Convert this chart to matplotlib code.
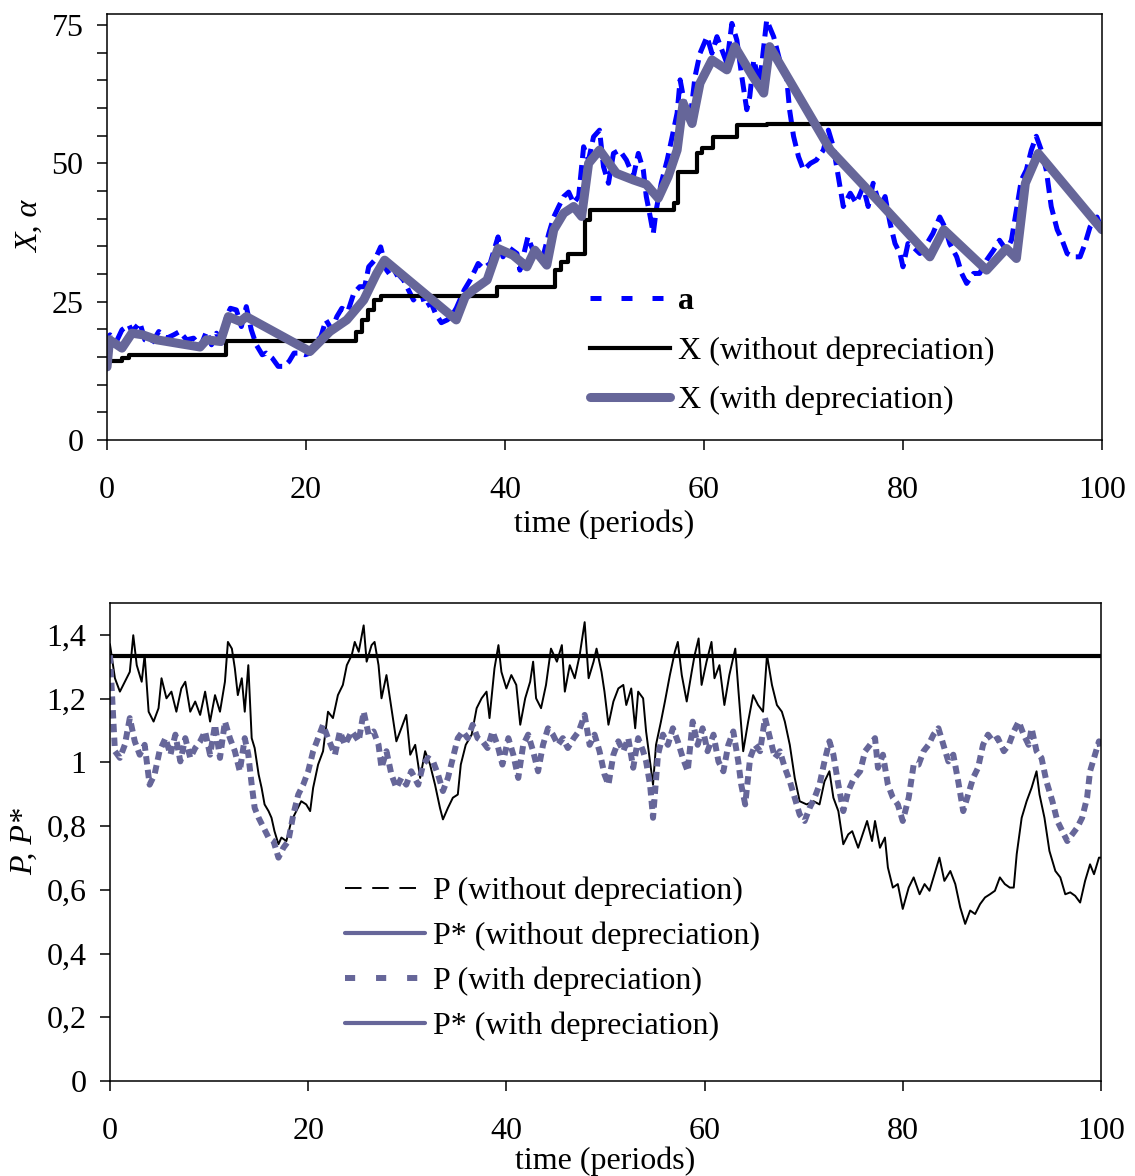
"""Two-panel chart: alpha / X paths and P / P* paths over time."""

import matplotlib

matplotlib.use("Agg")
import matplotlib.pyplot as plt
from matplotlib import ticker
from matplotlib.lines import Line2D

plt.rcParams["font.family"] = ["Liberation Serif", "DejaVu Serif"]
plt.rcParams["mathtext.fontset"] = "stix"

BLUE = "#0000ff"
SLATE = "#666699"

# ---- top panel data ----
alpha_t = [0.0, 0.3, 1.0, 1.5, 2.2, 2.5, 3.3, 3.8, 4.5, 5.2, 6.0, 6.7, 7.3, 8.0, 8.7, 9.4,
           10.0, 10.5, 11.0, 11.5, 12.0, 12.4, 13.0, 13.5, 14.0, 14.5, 15.0, 15.6, 16.0,
           16.6, 17.2, 17.8, 18.3, 18.8, 19.3, 19.9, 20.4, 20.9, 21.5, 22.0, 22.6, 23.1,
           23.6, 24.2, 24.8, 25.4, 25.9, 26.3, 26.9, 27.5, 28.1, 28.6, 29.2, 29.8, 30.3,
           30.8, 31.5, 32.0, 32.6, 33.0, 33.6, 34.2, 34.6, 35.1, 35.9, 36.5, 37.3, 37.8,
           38.5, 39.3, 39.8, 40.3, 41.2, 41.5, 42.3, 42.8, 43.4, 43.9, 44.4, 44.9, 45.4,
           45.9, 46.4, 46.9, 47.4, 47.9, 48.4, 48.9, 49.5, 49.9, 50.4, 50.9, 51.5, 52.2,
           52.9, 53.4, 53.9, 54.2, 54.6, 54.9, 55.2, 55.7, 56.3, 56.8, 57.3, 57.6, 58.1,
           58.6, 59.1, 59.6, 60.3, 60.8, 61.3, 61.8, 62.3, 62.8, 63.3, 63.8, 64.3, 64.6,
           65.0, 65.6, 66.3, 67.0, 67.6, 68.3, 68.6, 69.0, 69.5, 70.0, 70.7, 71.3, 72.0,
           72.5, 73.0, 73.5, 74.0, 74.7, 75.3, 76.0, 76.5, 77.0, 77.7, 78.2, 78.7, 79.2,
           79.7, 80.0, 80.5, 81.0, 81.7, 82.4, 83.0, 83.7, 84.2, 84.7, 85.4, 85.9, 86.4,
           87.1, 87.7, 88.4, 89.1, 89.7, 90.4, 90.9, 91.4, 91.9, 92.4, 92.9, 93.4, 93.9,
           94.4, 94.9, 95.5, 96.0, 96.5, 97.1, 97.8, 98.3, 98.8, 99.5, 100.0]
alpha_v = [16.5, 19.0, 18.0, 19.9, 20.8, 19.6, 21.2, 18.1, 17.5, 19.6, 18.4, 19.0, 19.6, 18.1,
           18.4, 16.9, 19.6, 17.2, 19.3, 17.5, 22.3, 23.8, 23.5, 20.5, 24.1, 19.9, 17.2, 15.4,
           15.7, 14.8, 13.3, 13.3, 14.2, 15.7, 15.7, 15.4, 15.7, 17.5, 18.7, 21.7, 19.9, 22.3,
           23.8, 23.2, 26.5, 27.7, 27.7, 31.3, 32.5, 34.9, 30.7, 29.5, 30.1, 28.9, 27.1, 25.3,
           27.1, 24.1, 24.7, 22.9, 21.2, 21.7, 22.3, 23.8, 27.1, 28.9, 31.9, 31.0, 31.9, 36.7,
           33.1, 34.9, 33.7, 30.7, 36.7, 34.3, 32.5, 33.7, 37.3, 40.3, 42.2, 44.0, 44.8, 42.8,
           44.0, 53.0, 50.6, 54.8, 56.0, 49.4, 46.4, 51.8, 52.4, 50.6, 47.6, 51.8, 48.8, 44.0,
           40.3, 37.3, 41.6, 46.4, 50.6, 54.8, 59.1, 65.1, 60.3, 57.9, 65.7, 69.9, 72.9, 69.9,
           72.9, 70.5, 68.1, 75.3, 72.3, 65.7, 59.7, 62.1, 68.7, 64.5, 75.9, 72.9, 68.7, 65.7,
           59.7, 54.9, 51.2, 48.8, 50.0, 50.6, 52.4, 56.0, 53.0, 47.6, 42.2, 44.6, 42.8, 45.8,
           42.2, 46.4, 42.2, 44.0, 39.2, 35.5, 33.7, 31.3, 35.5, 34.9, 33.7, 35.5, 37.3, 40.3,
           38.5, 35.5, 33.1, 30.1, 28.3, 30.1, 30.1, 32.5, 34.3, 36.1, 34.3, 36.1, 41.6, 47.0,
           48.8, 52.4, 54.9, 52.4, 48.8, 42.2, 38.0, 36.1, 33.7, 33.1, 33.1, 35.5, 38.5, 40.3,
           38.0]

# X without depreciation: staircase (value holds until the next time)
xnd_t = [0, 1.5, 2.2, 12.0, 25.0, 25.6, 26.2, 26.8, 27.5, 39.2, 45.0, 45.6, 46.3, 48.0,
         48.5, 57.0, 57.4, 59.3, 59.8, 60.9, 63.3, 66.3, 100]
xnd_v = [14.2, 14.8, 15.4, 17.8, 19.6, 21.7, 23.5, 25.3, 26.0, 27.7, 30.7, 32.2, 33.7, 39.8,
         41.6, 42.8, 48.5, 51.8, 52.7, 54.8, 56.9, 57.2, 57.2]

# X with depreciation
xd_t = [0, 0.25, 1.5, 2.5, 3.6, 5.0, 7.0, 9.35, 10.0, 11.4, 12.2, 13.4, 14.0, 20.4, 22.4,
        24.1, 25.8, 27.1, 27.9, 35.1, 36.0, 36.8, 38.2, 39.3, 40.8, 42.2, 43.0, 44.2, 44.9,
        45.9, 46.9, 47.7, 48.4, 49.5, 51.2, 52.9, 54.2, 55.4, 56.4, 57.3, 57.9, 58.8, 59.6,
        60.8, 62.3, 63.1, 64.9, 66.0, 66.6, 72.7, 77.4, 82.7, 84.1, 88.4, 90.4, 91.4, 92.3,
        93.6, 100]
xd_v = [13.2, 18.1, 16.6, 19.3, 19.0, 18.1, 17.5, 16.8, 18.1, 17.8, 22.3, 21.4, 22.3, 16.0,
        19.6, 21.7, 25.3, 30.1, 32.5, 21.7, 25.9, 27.1, 28.9, 34.6, 33.4, 31.3, 34.3, 31.6,
        38.0, 41.0, 42.2, 40.4, 50.0, 52.4, 48.2, 47.0, 46.2, 43.7, 47.6, 52.4, 60.9, 57.2,
        64.5, 68.7, 66.9, 71.1, 65.7, 62.7, 71.1, 52.4, 43.4, 33.1, 38.0, 30.7, 34.6, 32.8,
        46.4, 51.8, 38.0]

# ---- bottom panel data ----
p_t = [0.0, 0.5, 1.0, 1.5, 2.0, 2.35, 2.7, 3.2, 3.5, 3.9, 4.4, 4.9, 5.2, 5.7, 6.2, 6.7, 7.2,
       7.6, 8.1, 8.6, 9.1, 9.6, 10.1, 10.6, 11.1, 11.6, 11.9, 12.3, 12.6, 12.9, 13.3, 13.6,
       13.96, 14.3, 14.6, 15.0, 15.3, 15.6, 16.0, 16.3, 16.6, 17.0, 17.3, 17.8, 18.3, 18.8,
       19.3, 19.8, 20.2, 20.5, 21.0, 21.5, 22.0, 22.5, 23.0, 23.5, 23.9, 24.4, 24.7, 25.1,
       25.6, 25.9, 26.4, 26.7, 27.1, 27.4, 27.9, 28.4, 28.9, 29.4, 29.9, 30.3, 30.8, 31.3,
       31.8, 32.3, 32.8, 33.3, 33.6, 34.1, 34.6, 35.1, 35.4, 35.9, 36.5, 37.0, 37.5, 38.0,
       38.3, 38.8, 39.2, 39.5, 40.0, 40.5, 41.0, 41.4, 41.9, 42.4, 42.7, 43.0, 43.5, 44.0,
       44.5, 45.1, 45.6, 45.9, 46.4, 46.9, 47.4, 47.9, 48.3, 48.8, 49.1, 49.6, 49.9, 50.3,
       50.8, 51.3, 51.8, 52.1, 52.6, 53.0, 53.3, 53.8, 54.1, 54.5, 54.8, 55.1, 55.6, 56.0,
       56.5, 57.0, 57.3, 57.7, 58.2, 58.7, 59.0, 59.4, 59.7, 60.2, 60.7, 61.0, 61.5, 62.0,
       62.5, 63.1, 63.4, 63.9, 64.4, 64.9, 65.4, 65.9, 66.3, 66.8, 67.3, 67.8, 68.1, 68.6,
       69.1, 69.6, 70.3, 71.0, 71.6, 72.1, 72.6, 73.0, 73.5, 74.0, 74.5, 74.9, 75.5, 76.4,
       76.9, 77.2, 77.7, 78.2, 78.5, 79.0, 79.5, 80.0, 80.6, 81.1, 81.7, 82.2, 82.7, 83.2,
       83.7, 84.2, 84.8, 85.3, 85.8, 86.3, 86.8, 87.3, 87.8, 88.3, 88.8, 89.3, 89.8, 90.3,
       90.8, 91.2, 91.5, 92.0, 92.5, 93.0, 93.5, 93.8, 94.3, 94.8, 95.4, 95.9, 96.4, 96.9,
       97.4, 97.9, 98.4, 98.9, 99.3, 99.8, 100.0]
p_v = [1.37, 1.264, 1.222, 1.253, 1.284, 1.399, 1.305, 1.253, 1.337, 1.159, 1.128, 1.170,
       1.264, 1.201, 1.222, 1.159, 1.232, 1.253, 1.159, 1.191, 1.149, 1.222, 1.128, 1.211,
       1.159, 1.253, 1.378, 1.357, 1.295, 1.211, 1.264, 1.159, 1.305, 1.076, 1.045, 0.962,
       0.920, 0.868, 0.847, 0.826, 0.784, 0.743, 0.764, 0.753, 0.816, 0.847, 0.878, 0.868,
       0.847, 0.920, 0.993, 1.035, 1.159, 1.139, 1.211, 1.243, 1.305, 1.337, 1.378, 1.347,
       1.430, 1.316, 1.368, 1.378, 1.305, 1.201, 1.274, 1.170, 1.066, 1.107, 1.149, 1.024,
       1.055, 0.951, 1.035, 0.993, 0.930, 0.857, 0.821, 0.857, 0.889, 0.899, 0.993, 1.055,
       1.087, 1.170, 1.201, 1.222, 1.139, 1.295, 1.368, 1.284, 1.232, 1.274, 1.243, 1.118,
       1.201, 1.253, 1.316, 1.201, 1.170, 1.243, 1.357, 1.316, 1.368, 1.222, 1.305, 1.264,
       1.337, 1.440, 1.264, 1.316, 1.357, 1.284, 1.222, 1.118, 1.191, 1.232, 1.243, 1.180,
       1.232, 1.107, 1.222, 1.201, 1.097, 1.003, 0.930, 1.055, 1.128, 1.191, 1.274, 1.347,
       1.378, 1.274, 1.191, 1.284, 1.337, 1.389, 1.243, 1.316, 1.378, 1.264, 1.305, 1.180,
       1.274, 1.357, 1.232, 1.035, 1.128, 1.211, 1.180, 1.159, 1.337, 1.243, 1.180, 1.159,
       1.128, 1.055, 0.951, 0.878, 0.868, 0.878, 0.868, 0.940, 0.972, 0.889, 0.847, 0.743,
       0.774, 0.784, 0.732, 0.816, 0.753, 0.816, 0.732, 0.764, 0.670, 0.607, 0.618, 0.540,
       0.607, 0.639, 0.586, 0.618, 0.597, 0.649, 0.701, 0.628, 0.659, 0.618, 0.545, 0.493,
       0.535, 0.524, 0.555, 0.576, 0.586, 0.597, 0.639, 0.618, 0.607, 0.607, 0.712, 0.826,
       0.878, 0.920, 0.972, 0.899, 0.826, 0.722, 0.659, 0.639, 0.586, 0.592, 0.581, 0.560,
       0.628, 0.680, 0.649, 0.701, 0.701]

pstar_t = [0, 100]
pstar_v = [1.333, 1.333]

pd_t = [0.0, 0.3, 0.5, 1.0, 1.5, 2.0, 2.5, 3.0, 3.5, 4.0, 4.5, 5.0, 5.6, 6.1, 6.6, 7.1, 7.6,
        8.1, 8.6, 9.1, 9.6, 10.1, 10.6, 11.1, 11.6, 12.1, 12.6, 13.1, 13.6, 13.96, 14.3,
        14.6, 15.0, 15.5, 16.0, 16.5, 17.0, 17.5, 18.0, 18.5, 19.0, 19.5, 20.0, 20.5, 21.0,
        21.5, 22.0, 22.7, 23.2, 23.7, 24.4, 24.9, 25.1, 25.6, 26.1, 26.6, 27.1, 27.4, 27.9,
        28.4, 28.9, 29.4, 29.9, 30.4, 31.1, 31.6, 32.1, 32.6, 33.1, 33.6, 34.1, 34.6, 35.1,
        35.6, 36.1, 36.6, 37.1, 37.6, 38.1, 38.6, 39.1, 39.6, 40.2, 40.7, 41.2, 41.7, 42.2,
        42.7, 43.2, 43.7, 44.2, 44.7, 45.2, 45.7, 46.2, 46.8, 47.3, 47.9, 48.4, 48.9, 49.4,
        49.9, 50.3, 50.8, 51.3, 51.8, 52.3, 52.8, 53.3, 53.8, 54.1, 54.5, 54.8, 55.3, 55.8,
        56.3, 56.8, 57.3, 57.8, 58.3, 58.8, 59.3, 59.8, 60.3, 60.9, 61.4, 61.9, 62.4, 62.9,
        63.4, 63.7, 64.1, 64.6, 65.1, 65.6, 66.1, 66.6, 67.1, 67.6, 68.1, 68.6, 69.1, 69.6,
        70.1, 70.6, 71.1, 71.6, 72.1, 72.6, 73.0, 73.5, 74.0, 74.5, 75.0, 75.7, 76.2, 76.7,
        77.2, 77.5, 78.0, 78.5, 79.0, 79.5, 80.0, 80.6, 81.1, 81.6, 82.1, 82.6, 83.1, 83.6,
        84.1, 84.6, 85.1, 85.6, 86.1, 86.6, 87.1, 87.6, 88.1, 88.6, 89.1, 89.6, 90.2, 90.7,
        91.2, 91.7, 92.2, 92.7, 93.0, 93.5, 94.0, 94.5, 95.1, 95.6, 96.1, 96.6, 97.1, 97.6,
        98.1, 98.6, 98.9, 99.4, 99.8, 100.0]
pd_v = [1.336, 1.159, 1.035, 1.014, 1.055, 1.139, 1.066, 1.024, 1.055, 0.930, 0.962, 1.035,
        1.076, 1.024, 1.087, 1.003, 1.076, 1.014, 1.045, 1.066, 1.097, 1.024, 1.118, 1.014,
        1.128, 1.076, 1.035, 0.972, 1.076, 1.024, 0.930, 0.857, 0.826, 0.795, 0.764, 0.753,
        0.701, 0.732, 0.753, 0.836, 0.899, 0.930, 0.972, 1.035, 1.076, 1.118, 1.076, 1.024,
        1.097, 1.055, 1.097, 1.076, 1.066, 1.159, 1.087, 1.097, 1.055, 0.983, 1.035, 0.962,
        0.920, 0.951, 0.930, 0.972, 0.930, 0.993, 1.014, 1.003, 0.962, 0.910, 0.951, 1.014,
        1.076, 1.097, 1.076, 1.118, 1.076, 1.066, 1.045, 1.097, 1.055, 0.993, 1.076, 1.024,
        0.951, 1.055, 1.087, 1.035, 0.972, 1.055, 1.107, 1.087, 1.055, 1.076, 1.045, 1.076,
        1.097, 1.149, 1.055, 1.087, 1.035, 0.962, 0.930, 1.024, 1.066, 1.035, 1.076, 0.983,
        1.076, 1.035, 1.003, 0.930, 0.826, 1.024, 1.087, 1.055, 1.107, 1.066, 1.014, 0.972,
        1.128, 1.055, 1.107, 1.035, 1.087, 1.003, 0.972, 1.055, 1.097, 1.003, 0.930, 0.868,
        1.014, 1.055, 1.035, 1.139, 1.076, 1.014, 1.035, 0.983, 0.941, 0.889, 0.836, 0.816,
        0.857, 0.889, 0.930, 1.003, 1.066, 1.024, 0.930, 0.847, 0.910, 0.945, 0.972, 1.035,
        1.055, 1.076, 0.983, 1.024, 0.930, 0.889, 0.868, 0.816, 0.889, 0.993, 0.993, 1.035,
        1.055, 1.087, 1.107, 1.055, 1.003, 1.024, 0.940, 0.847, 0.899, 0.951, 0.983, 1.055,
        1.087, 1.066, 1.076, 1.035, 1.055, 1.097, 1.128, 1.087, 1.055, 1.107, 1.035, 1.014,
        0.940, 0.878, 0.816, 0.784, 0.753, 0.774, 0.795, 0.826, 0.889, 0.972, 1.024, 1.066,
        1.035]

FS = 23


def style_axes(ax, xlabelpad):
    for side in ("top", "bottom", "left", "right"):
        ax.spines[side].set_linewidth(1.1)
    ax.tick_params(axis="both", which="both", direction="out", length=7, width=1.1,
                   labelsize=FS)
    ax.tick_params(axis="x", pad=19)
    ax.tick_params(axis="y", pad=10)
    ax.set_xlim(0, 100)
    ax.xaxis.set_major_locator(ticker.MultipleLocator(20))
    ax.set_xlabel("time (periods)", fontsize=FS, labelpad=xlabelpad)


def comma_fmt(val, _pos):
    text = f"{val:.1f}".rstrip("0").rstrip(".")
    return text.replace(".", ",")


def main() -> None:
    fig = plt.figure(figsize=(11.35, 11.76), dpi=100)
    ax1 = fig.add_axes([0.0943, 0.6259, 0.8766, 0.3622])
    ax2 = fig.add_axes([0.0969, 0.0808, 0.8731, 0.4064])

    # top panel
    ax1.plot(alpha_t, alpha_v, color=BLUE, lw=3.6, dashes=(3, 1.4))
    ax1.step(xnd_t, xnd_v, where="post", color="black", lw=3.0)
    ax1.plot(xd_t, xd_v, color=SLATE, lw=6.5, solid_capstyle="round", solid_joinstyle="round")
    style_axes(ax1, 3.5)
    ax1.set_ylim(0, 77)
    ax1.yaxis.set_major_locator(ticker.MultipleLocator(25))
    ax1.yaxis.set_minor_locator(ticker.MultipleLocator(5))
    ax1.set_ylabel("X, α", fontsize=FS, fontstyle="italic", labelpad=5)

    top_handles = [
        Line2D([], [], color=BLUE, lw=3.6, dashes=(2.2, 4.0)),
        Line2D([], [], color="black", lw=3.0),
        Line2D([], [], color=SLATE, lw=6.5, solid_capstyle="round"),
    ]
    leg1 = ax1.legend(top_handles, ["a", "X (without depreciation)", "X (with depreciation)"],
                      loc="center left", bbox_to_anchor=(0.4854, 0.2086), frameon=False,
                      fontsize=FS, handlelength=2.5, handletextpad=0.25, labelspacing=0.62,
                      borderpad=0, borderaxespad=0)
    leg1.get_texts()[0].set_fontweight("bold")

    # bottom panel
    ax2.plot(p_t, p_v, color="black", lw=1.4)
    ax2.plot(pstar_t, pstar_v, color="black", lw=3.0)
    ax2.plot(pd_t, pd_v, color=SLATE, lw=4.3, dashes=(1.4, 0.9))
    style_axes(ax2, 0)
    ax2.set_ylim(0, 1.5)
    ax2.yaxis.set_major_locator(ticker.MultipleLocator(0.2))
    ax2.yaxis.set_major_formatter(ticker.FuncFormatter(comma_fmt))
    ax2.set_ylabel("P, P*", fontsize=FS, fontstyle="italic", labelpad=5)

    bottom_handles = [
        Line2D([], [], color="black", lw=1.4, dashes=(8.5, 5.5)),
        Line2D([], [], color=SLATE, lw=3.0, solid_capstyle="round"),
        Line2D([], [], color=SLATE, lw=4.3, dashes=(1.7, 3.5)),
        Line2D([], [], color=SLATE, lw=3.0, solid_capstyle="round"),
    ]
    ax2.legend(bottom_handles,
               ["P (without depreciation)", "P* (without depreciation)",
                "P (with depreciation)", "P* (with depreciation)"],
               loc="center left", bbox_to_anchor=(0.2371, 0.2553), frameon=False,
               fontsize=FS, handlelength=2.5, handletextpad=0.25, labelspacing=0.49,
               borderpad=0, borderaxespad=0)

    fig.savefig("out.png", dpi=100)
    plt.close(fig)


if __name__ == "__main__":
    main()
